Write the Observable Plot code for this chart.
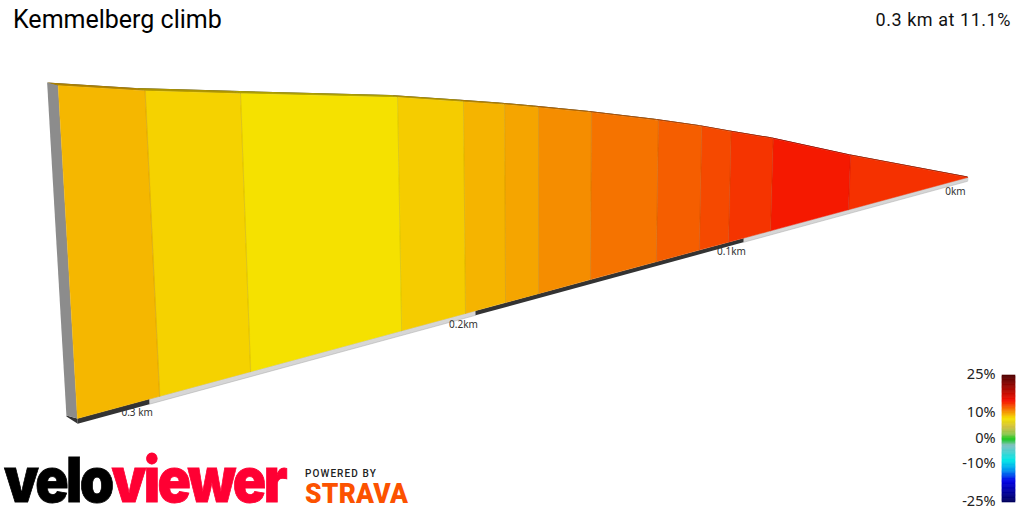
<!DOCTYPE html>
<html><head><meta charset="utf-8">
<style>
html,body{margin:0;padding:0;background:#fff;width:1024px;height:512px;overflow:hidden}
#root{position:relative;width:1024px;height:512px;font-family:Roboto,sans-serif;color:#111}
#root>*{position:absolute}
#chart{left:0;top:0}
#legend{left:940px;top:360px}
#title{left:13px;top:5px;font-size:25px;line-height:30px;color:#000}
#stat{right:13px;top:8px;font-size:18px;line-height:24px;letter-spacing:.55px;color:#111}
#logo{left:4px;top:449px;font:900 62px/62px Inter,Roboto,sans-serif;letter-spacing:-3px;white-space:nowrap;transform-origin:0 0;transform:scaleX(.89);-webkit-text-stroke:.8px currentColor}
#logo span{display:inline-block;line-height:62px;height:62px}
#logo .a{color:#000}#logo .b{color:#ff0033}
#powered{left:305px;top:468px;font-size:10px;line-height:12px;font-weight:500;letter-spacing:1.1px;color:#222}
#strava{left:305px;top:482px;font:900 28px/24px Roboto,sans-serif;letter-spacing:.3px;color:#fc5200;white-space:nowrap;transform-origin:0 0;transform:scaleX(.94)}
</style>
<script src="https://cdn.jsdelivr.net/npm/d3@7"></script>
<script src="https://cdn.jsdelivr.net/npm/@observablehq/plot@0.6"></script>
</head><body>
<div id="root">
<div id="chart"></div><div id="legend"></div>
<div id="title">Kemmelberg climb</div>
<div id="stat">0.3 km at 11.1%</div>
<div id="logo"><span class="a">velo</span><span class="b">viewer</span></div>
<div id="powered">POWERED BY</div>
<div id="strava">STRAVA</div>
</div>
<script>
// Distance from the summit (km), elevation above the climb's foot (m), gradient of each stretch (%)
const boundaryKm = [0, 0.0553, 0.0888, 0.1061, 0.1178, 0.1346, 0.1594, 0.1781, 0.1897, 0.2034, 0.2245, 0.2711, 0.2971, 0.3194];
const elevationM = [0, 7.4, 12.2, 14.4, 15.95, 17.95, 20.75, 22.7, 23.9, 25.2, 27.2, 30.9, 33.0, 35.1];
const gradientPct = [13.9, 14.7, 13.8, 13.1, 12.4, 11.7, 10.8, 10.0, 9.5, 8.7, 8.0, 8.5, 9.4];
const kmTicks = [0, 0.1, 0.2, 0.3];
const kmLabels = ["0km", "0.1km", "0.2km", "0.3 km"];
const legendTicks = [25, 10, 0, -10, -25];
const colorDomain = [-25, -16.5, -12.5, -8.5, -2.5, 0, 1.5, 4.6, 8, 15, 25];
const colorRange = ["#00005a", "#0000e6", "#0090f0", "#00e6e6", "#80c0c0", "#14c814", "#80c850", "#cfc040", "#f5e100", "#f51000", "#500000"];

const color = {type: "linear", domain: colorDomain, range: colorRange, interpolate: "rgb"};

// Perspective view of the climb's wall: (km, elevation, depth) to the picture
const A = 2056, B = 0.821, TAN = 0.2708, PX_PER_M = 7;
const view = d3.geoTransform({
  point(km, el, depth = 0) {
    const w = 1 - B * km, run = A * km / w;
    const baseX = 967 - run, baseY = 177 + TAN * run, h = PX_PER_M * el / w;
    const lean = (540 - baseX) / 8000;
    this.stream.point(
      baseX - lean * h - depth * 11 * run / 890,
      baseY - h - depth * (1 + 2 * run / 890)
    );
  }
});
const poly = (pts, pct) => ({type: "Feature", properties: {pct}, geometry: {type: "Polygon", coordinates: [[...pts, pts[0]]]}});
const n = gradientPct.length, endKm = boundaryKm[n], endEl = elevationM[n];

const faces = gradientPct.map((pct, i) => poly([[boundaryKm[i], 0], [boundaryKm[i + 1], 0], [boundaryKm[i + 1], elevationM[i + 1]], [boundaryKm[i], elevationM[i]]], pct));
const tops = gradientPct.map((pct, i) => poly([[boundaryKm[i], elevationM[i]], [boundaryKm[i + 1], elevationM[i + 1]], [boundaryKm[i + 1], elevationM[i + 1], 1], [boundaryKm[i], elevationM[i], 1]], pct));
const seams = boundaryKm.slice(1, n).map((km, i) => ({type: "LineString", coordinates: [[km, 0], [km, elevationM[i + 1]]]}));
const band = (a, b) => poly([[a, 0], [b, 0], [b, -0.55], [a, -0.55]]);
const lightBands = [band(0, 0.1), band(0.2, 0.3)];
const darkBands = [band(0.1, 0.2), band(0.3, endKm), poly([[endKm, 0, 1], [endKm, 0], [endKm, -0.55], [endKm, -0.1, 1]])];
const endFace = [poly([[endKm, 0], [endKm, endEl], [endKm, endEl, 1], [endKm, 0, 1]])];
const labels = kmTicks.map((km, i) => ({km, el: 0, text: kmLabels[i]}));

const chart = Plot.plot({
  width: 1024, height: 512, margin: 0,
  projection: view,
  color,
  marks: [
    Plot.geo(lightBands, {fill: "#d6d6d6", stroke: "#a8a8a8", strokeWidth: 0.5}),
    Plot.geo(darkBands, {fill: "#333"}),
    Plot.geo(endFace, {fill: "#8c8c8c"}),
    Plot.geo(tops, {fill: "#000"}),
    Plot.geo(tops, {fill: d => d.properties.pct, fillOpacity: 0.7}),
    Plot.geo(faces, {fill: d => d.properties.pct, stroke: d => d.properties.pct, strokeWidth: 0.4}),
    Plot.geo(seams, {stroke: "#000", strokeOpacity: 0.1, strokeWidth: 1}),
    Plot.text(labels, {x: "km", y: "el", text: "text", dx: -12, dy: 14, fontSize: 10, fill: "#333"})
  ]
});
document.getElementById("chart").append(chart);

const legendSteps = d3.range(-25, 25, 0.5);
const legend = Plot.plot({
  width: 84, height: 152,
  marginLeft: 62, marginRight: 9, marginTop: 15, marginBottom: 10,
  y: {domain: [-25, 25]},
  color,
  marks: [
    Plot.rect(legendSteps, {y1: d => d, y2: d => d + 0.5, fill: d => d + 0.25, stroke: d => d + 0.25, strokeWidth: 0.6}),
    Plot.axisY({ticks: legendTicks, tickSize: 0, tickPadding: 7, tickFormat: d => d + "%", fontSize: 14.5, fill: "#222", label: null, dy: -0.8})
  ]
});
legend.style.overflow = "visible";
document.getElementById("legend").append(legend);
</script>
</body></html>
